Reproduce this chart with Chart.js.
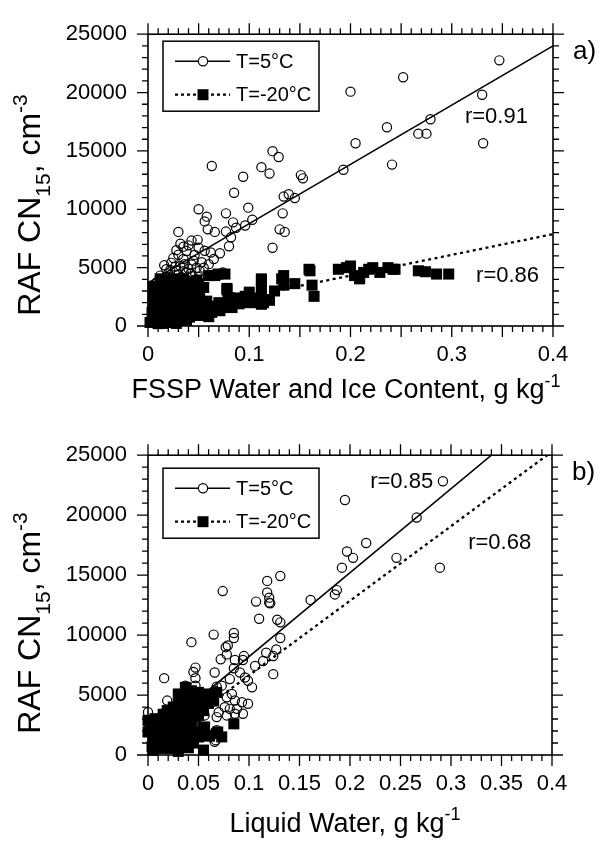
<!DOCTYPE html>
<html>
<head>
<meta charset="utf-8">
<title>RAF CN15 vs FSSP / liquid water</title>
<script src="https://cdn.jsdelivr.net/npm/chart.js@4.4.1/dist/chart.umd.min.js"></script>
<style>
  html, body { margin: 0; padding: 0; background: #fff; }
  .panel { position: absolute; left: 0; width: 607px; height: 421px; }
  #wrapA { top: 0; }
  #wrapB { top: 421px; }
</style>
</head>
<body>
<div class="panel" id="wrapA"><canvas id="panelA" width="607" height="421"></canvas></div>
<div class="panel" id="wrapB"><canvas id="panelB" width="607" height="421"></canvas></div>
<script>
// ---------- data ----------
const yTicks = [0, 5000, 10000, 15000, 20000, 25000];
const yTickLabels = ['0', '5000', '10000', '15000', '20000', '25000'];
const xTicksA = [0, 0.1, 0.2, 0.3, 0.4];
const xTickLabelsA = ['0', '0.1', '0.2', '0.3', '0.4'];
const xTicksB = [0, 0.05, 0.1, 0.15, 0.2, 0.25, 0.3, 0.35, 0.4];
const xTickLabelsB = ['0', '0.05', '0.1', '0.15', '0.2', '0.25', '0.3', '0.35', '0.4'];

// panel a) FSSP water and ice content vs CN, T=5°C (open circles)
const warmA = [
  [0.123,14980],[0.129,14480],[0.063,13710],[0.112,13610],[0.120,13060],[0.094,12790],[0.151,12930],[0.153,12650],
  [0.085,11420],[0.134,11090],[0.139,11290],[0.145,10960],[0.050,10000],[0.099,10140],[0.077,9650],[0.058,9370],
  [0.056,8960],[0.133,9650],[0.084,8880],[0.103,9100],[0.096,8610],[0.087,8420],[0.059,8280],[0.066,8060],
  [0.077,8090],[0.130,8280],[0.135,8060],[0.030,8060],[0.082,7600],[0.043,7320],[0.049,7380],[0.032,7050],
  [0.040,6910],[0.080,6830],[0.123,6700],[0.038,6420],[0.056,6450],[0.071,6230],[0.046,6090],[0.025,5820],
  [0.065,5740],[0.035,5740],[0.053,5470],[0.023,5410],[0.043,5270],[0.032,5140],[0.018,4860],[0.028,4730],
  [0.038,4590],[0.051,4730],[0.074,4590],[0.012,4320],[0.022,4180],[0.033,4180],[0.043,4260],[0.009,3770],
  [0.017,3630],[0.027,3770],[0.037,3630],[0.046,3770],[0.014,3220],[0.023,3280],[0.033,3360],[0.007,3090],
  [0.015,4000],[0.025,3900],[0.040,4900],[0.048,5000],[0.030,4400],[0.020,2900],[0.010,2700],
  [0.012,3500],[0.020,4500],[0.035,4700],[0.042,4500],[0.050,4200],[0.055,5000],[0.045,5600],[0.036,5300],
  [0.027,5100],[0.018,4200],[0.024,3500],[0.030,3100],[0.040,3300],[0.016,5200],[0.060,5300],[0.062,6300],
  [0.030,6100],[0.022,4800],[0.028,6500],[0.035,6800],[0.050,6700],
  [0.193,13390],[0.200,20080],[0.252,21310],[0.236,17030],[0.205,15660],[0.241,13830],[0.347,22760],
  [0.330,19810],[0.331,15660],[0.279,17710],[0.275,16480],[0.267,16480]
];
// panel a) T=-20°C (filled squares)
const coldA = [
  [0.159,4860],[0.162,3500],[0.164,2540],[0.160,4730],[0.188,4860],[0.196,5000],[0.200,5140],[0.204,4320],
  [0.209,4040],[0.209,4180],[0.213,4590],[0.218,4860],[0.222,5000],[0.229,4590],[0.237,5000],[0.244,4860],
  [0.242,4860],[0.267,4730],[0.274,4650],[0.285,4450],[0.297,4450],
  [0.134,4320],[0.134,3500],[0.145,3630],[0.112,3910],[0.112,3090],[0.114,1990],[0.099,2540],[0.091,2270],
  [0.081,2400],[0.078,3090],[0.074,1580],[0.066,1580],[0.058,2130],[0.060,4320],[0.069,4450],[0.042,3770],
  [0.048,3220],[0.051,2400],[0.045,1580],[0.037,1040],[0.022,760],[0.009,760],[0.005,1040],[0.015,220],
  [0.028,220],[0.038,490],[0.012,2130],[0.010,3090],[0.012,4040],[0.018,2810],[0.025,1860],[0.032,1990],
  [0.038,2680],[0.045,2810],[0.048,3910],[0.035,4040],[0.025,3770],[0.018,3500],[0.007,1580],
  [0.076,4450],[0.066,4320],[0.112,4040],[0.112,3220],[0.132,4040],[0.078,3220],[0.079,2400],[0.088,2400],
  [0.096,2540],[0.104,2400],[0.114,2270],[0.112,1860],[0.083,1580],[0.071,1310],[0.063,1170],[0.051,900],
  [0.041,760],[0.033,490],[0.023,490],[0.014,490],[0.005,630],[0.004,1170],[0.010,1580],[0.017,1990],
  [0.030,1720],[0.040,1580],[0.046,1990],[0.037,2400],[0.027,2680],[0.017,2950],[0.010,2680],[0.009,3360],
  [0.045,3220],[0.040,3770],[0.030,3500],[0.020,3500],[0.025,4040],
  [0.002,300],[0.010,200],[0.020,300],[0.030,900],[0.020,1200],[0.015,1500],[0.025,1300],[0.035,1500],
  [0.030,2200],[0.022,2300],[0.015,2500],[0.005,2000],[0.005,2600],[0.040,2100],[0.045,2400],[0.050,1800],
  [0.055,1500],[0.060,1700],[0.050,3600],[0.055,3300],[0.040,3100],[0.033,2900],[0.025,3200],[0.015,3900],
  [0.005,3400],[0.010,1100],[0.060,800],[0.070,2000],[0.085,2000],[0.095,2000],[0.105,2000],[0.120,2200],
  [0.125,3000],[0.100,2900],[0.090,1900]
];
const fitWarmA = [[0, 3700], [0.4, 24000]];
const fitColdA = [[0, 770], [0.4, 7870]];

// panel b) liquid water vs CN, T=5°C
const warmB = [
  [0.131,14930],[0.118,14520],[0.074,13670],[0.118,13560],[0.120,13120],[0.120,12710],[0.107,12790],[0.110,11360],
  [0.128,11280],[0.131,11060],[0.065,10040],[0.085,10170],[0.085,9760],[0.043,9410],[0.077,8990],[0.079,9130],
  [0.131,9760],[0.127,8800],[0.117,8530],[0.124,8250],[0.095,8250],[0.094,7920],[0.078,8390],[0.072,7980],
  [0.086,7920],[0.114,7840],[0.106,7430],[0.124,6740],[0.047,7290],[0.045,6930],[0.016,6410],[0.066,6880],
  [0.047,6410],[0.085,7230],[0.091,6880],[0.096,6460],[0.099,6190],[0.103,5640],[0.081,6330],[0.073,5780],
  [0.068,5690],[0.083,5090],[0.078,4810],[0.086,4540],[0.093,4400],[0.099,4270],[0.076,3990],[0.081,3850],
  [0.088,3850],[0.070,3570],[0.078,3300],[0.086,3440],[0.094,3440],[0.068,3160],[0.056,3300],[0.019,4540],
  [0.037,5780],[0.047,5780],[0.066,5360],[0.045,2750],[0.066,1100],[0.000,3570],[0.068,2060],[0.067,1240],
  [0.292,22830],[0.195,21260],[0.266,19800],[0.216,17680],[0.197,16970],[0.203,16440],[0.246,16440],
  [0.192,15620],[0.289,15620],[0.187,13750],[0.185,13390],[0.161,12930],[0.121,12650]
];
// panel b) T=-20°C
const coldB = [
  [0.085,2600],[0.073,1510],[0.055,410],[0.056,2340],[0.060,1650],[0.068,1790],[0.037,5640],[0.043,5360],
  [0.050,5220],[0.056,5090],[0.063,4810],[0.030,4270],[0.040,4540],[0.047,4810],[0.055,4540],[0.050,3990],
  [0.023,3570],[0.032,3710],[0.038,3570],[0.017,3160],[0.007,3030],[0.000,2890],[0.010,2200],[0.000,1920],
  [0.017,2060],[0.027,1790],[0.037,2060],[0.043,2620],[0.047,3160],[0.007,1240],[0.017,1100],[0.027,970],
  [0.037,1100],[0.004,690],[0.014,550],[0.023,550],[0.033,690],[0.040,1380],[0.030,5090],[0.068,5220],
  [0.069,1920],[0.061,1570],[0.055,2200],[0.019,3710],[0.002,2620],[0.048,4810],[0.058,4810],
  [0.010,2700],[0.020,2500],[0.030,2400],[0.025,3000],[0.035,3000],[0.045,3500],[0.060,4300],[0.065,4500],
  [0.052,4200],[0.043,4200],[0.035,4800],[0.020,1600],[0.030,1400],[0.010,1700],[0.005,400],[0.030,300],[0.040,600],
  [0.005,1500],[0.015,1800],[0.025,2200],[0.035,2500],[0.045,2000],[0.050,1500],[0.045,1000],[0.010,900],
  [0.020,800],[0.030,1200],[0.025,3400],[0.015,3400],[0.040,3200],[0.050,3300],[0.055,3700],[0.045,4400],
  [0.025,4000],[0.060,5000],[0.038,5000],[0.032,4600]
];
const fitWarmB = [[0, 1200], [0.34, 25000]];
const fitColdB = [[0, 420], [0.4, 25300]];

// ---------- drawing ----------
const FONT = '"Liberation Sans", Arial, Helvetica, sans-serif';
const yTitleParts = [{ text: 'RAF CN' }, { text: '15', sub: true }, { text: ', cm' }, { text: '-3', sup: true }];

const toXY = pairs => pairs.map(([x, y]) => ({ x, y }));

// draws text with sub/superscript pieces, centred on cx, baseline at baseY
function drawRichText(ctx, parts, size, cx, baseY) {
  const small = Math.round(size * 0.65);
  const setFont = part => { ctx.font = `${part.sub || part.sup ? small : size}px ${FONT}`; };
  const total = parts.reduce((sum, part) => { setFont(part); return sum + ctx.measureText(part.text).width; }, 0);
  let x = cx - total / 2;
  ctx.textAlign = 'left';
  ctx.textBaseline = 'alphabetic';
  parts.forEach(part => {
    setFont(part);
    const dy = part.sub ? size * 0.3 : part.sup ? -size * 0.42 : 0;
    ctx.fillText(part.text, x, baseY + dy);
    x += ctx.measureText(part.text).width;
  });
}

function drawMarker(ctx, kind, x, y) {
  ctx.beginPath();
  if (kind === 'square') {
    ctx.fillStyle = '#000';
    ctx.fillRect(x - 5.5, y - 5.5, 11, 11);
  } else {
    ctx.lineWidth = 1.2;
    ctx.arc(x, y, 4.6, 0, Math.PI * 2);
    ctx.stroke();
  }
}

function createPanel(canvasId, p) {
  const decor = {
    id: 'panelDecor',
    afterDatasetsDraw(chart) {
      const { ctx, chartArea: a, scales: { x, y } } = chart;
      ctx.save();
      ctx.strokeStyle = '#000';
      ctx.fillStyle = '#000';

      // frame
      ctx.lineWidth = 1.6;
      ctx.strokeRect(a.left, a.top, a.right - a.left, a.bottom - a.top);

      // outward tick marks on all four sides, long ones every 0.05 / 5000
      ctx.lineWidth = 1.3;
      ctx.beginPath();
      for (let i = 0; i <= 40; i++) {
        const px = x.getPixelForValue(i / 100);
        const len = i % 5 === 0 ? 11 : 6;
        ctx.moveTo(px, a.bottom); ctx.lineTo(px, a.bottom + len);
        ctx.moveTo(px, a.top); ctx.lineTo(px, a.top - len);
      }
      for (let i = 0; i <= 25; i++) {
        const py = y.getPixelForValue(i * 1000);
        const len = i % 5 === 0 ? 11 : 6;
        ctx.moveTo(a.left, py); ctx.lineTo(a.left - len, py);
        ctx.moveTo(a.right, py); ctx.lineTo(a.right + len, py);
      }
      ctx.stroke();

      // axis titles
      drawRichText(ctx, p.xTitle, 27, p.xTitlePos[0], p.xTitlePos[1]);
      ctx.save();
      ctx.translate(p.yTitlePos[0], p.yTitlePos[1]);
      ctx.rotate(-Math.PI / 2);
      drawRichText(ctx, yTitleParts, 32, 0, 0);
      ctx.restore();

      // legend box
      const lx = a.left + 15, ly = a.top + p.legendTop;
      ctx.lineWidth = 1.5;
      ctx.strokeRect(lx, ly, 156, 70);
      [['T=5°C', 'circle', []], ['T=-20°C', 'square', [3, 3]]].forEach(([label, kind, dash], i) => {
        const rowY = ly + 20 + i * 33.5;
        ctx.lineWidth = dash.length ? 2.2 : 1.4;
        ctx.setLineDash(dash);
        ctx.beginPath();
        ctx.moveTo(lx + 12, rowY); ctx.lineTo(lx + 67, rowY);
        ctx.stroke();
        ctx.setLineDash([]);
        if (kind === 'circle') {
          ctx.fillStyle = '#fff';
          ctx.beginPath(); ctx.arc(lx + 40, rowY, 4.6, 0, Math.PI * 2); ctx.fill();
          ctx.fillStyle = '#000';
        }
        drawMarker(ctx, kind, lx + 40, rowY);
        ctx.font = `20px ${FONT}`;
        ctx.textAlign = 'left';
        ctx.textBaseline = 'middle';
        ctx.fillText(label, lx + 73, rowY + 1);
      });

      // correlation labels
      ctx.font = `22px ${FONT}`;
      ctx.textAlign = 'left';
      ctx.textBaseline = 'middle';
      p.notes.forEach(n => ctx.fillText(n.text, x.getPixelForValue(n.x), y.getPixelForValue(n.y)));

      // panel letter
      ctx.font = `26px ${FONT}`;
      ctx.fillText(p.letter, a.right + 20, a.top + 18);
      ctx.restore();
    }
  };

  const tickFont = { family: FONT, size: 22 };
  return new Chart(document.getElementById(canvasId), {
    type: 'scatter',
    data: {
      datasets: [
        { data: toXY(p.cold), pointStyle: 'rect', pointRadius: 7.8, backgroundColor: '#000', borderColor: '#000', borderWidth: 0, clip: false, order: 0 },
        { type: 'line', data: toXY(p.fitWarm), borderColor: '#000', borderWidth: 1.6, pointRadius: 0, clip: 0, order: 1 },
        { type: 'line', data: toXY(p.fitCold), borderColor: '#000', borderWidth: 2.3, borderDash: [3, 3.5], pointRadius: 0, clip: 0, order: 1 },
        { data: toXY(p.warm), pointStyle: 'circle', pointRadius: 4.6, backgroundColor: 'rgba(0,0,0,0)', borderColor: '#000', borderWidth: 1.2, clip: false, order: 2 }
      ]
    },
    options: {
      responsive: false,
      animation: false,
      events: [],
      layout: { padding: { top: p.area.top, right: 607 - p.area.right, left: 0, bottom: 0 } },
      plugins: { legend: { display: false }, tooltip: { enabled: false } },
      scales: {
        x: {
          type: 'linear', min: 0, max: 0.4,
          grid: { display: false, drawTicks: false },
          border: { display: false },
          afterBuildTicks: s => { s.ticks = p.xTicks.map(v => ({ value: v })); },
          afterFit: s => { s.height = 421 - p.area.bottom; },
          ticks: { callback: (v, i) => p.xTickLabels[i], font: tickFont, color: '#000', padding: 16, maxRotation: 0, autoSkip: false }
        },
        y: {
          type: 'linear', min: 0, max: 25000,
          grid: { display: false, drawTicks: false },
          border: { display: false },
          afterBuildTicks: s => { s.ticks = yTicks.map(v => ({ value: v })); },
          afterFit: s => { s.width = p.area.left; },
          ticks: { callback: (v, i) => yTickLabels[i], font: tickFont, color: '#000', padding: 21, autoSkip: false }
        }
      }
    },
    plugins: [decor]
  });
}

createPanel('panelA', {
  warm: warmA, cold: coldA, fitWarm: fitWarmA, fitCold: fitColdA,
  xTicks: xTicksA, xTickLabels: xTickLabelsA,
  area: { left: 148, right: 553, top: 21, bottom: 326 },
  legendTop: 7,
  xTitle: [{ text: 'FSSP Water and Ice Content, g kg' }, { text: '-1', sup: true }],
  xTitlePos: [346, 398],
  yTitlePos: [40, 205],
  notes: [{ text: 'r=0.91', x: 0.313, y: 17870 }, { text: 'r=0.86', x: 0.324, y: 4260 }],
  letter: 'a)'
});

createPanel('panelB', {
  warm: warmB, cold: coldB, fitWarm: fitWarmB, fitCold: fitColdB,
  xTicks: xTicksB, xTickLabels: xTickLabelsB,
  area: { left: 148, right: 552, top: 30, bottom: 334 },
  legendTop: 13,
  xTitle: [{ text: 'Liquid Water, g kg' }, { text: '-1', sup: true }],
  xTitlePos: [345, 410.5],
  yTitlePos: [40, 202],
  notes: [{ text: 'r=0.85', x: 0.22, y: 22770 }, { text: 'r=0.68', x: 0.317, y: 17660 }],
  letter: 'b)'
});
</script>
</body>
</html>
